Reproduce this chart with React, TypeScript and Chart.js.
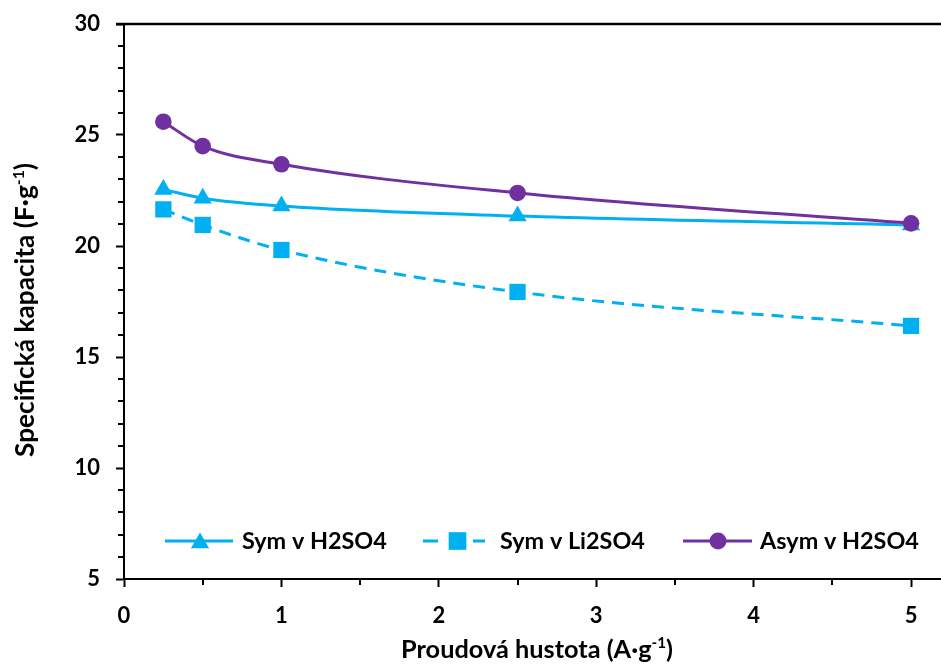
import React, { useEffect, useRef } from 'react';
import { Chart, registerables } from 'chart.js';

Chart.register(...registerables);

// ---- data ----
const currentDensity = [0.25, 0.5, 1, 2.5, 5];
const symH2SO4 = [22.55, 22.15, 21.8, 21.35, 20.95];
const symLi2SO4 = [21.65, 20.95, 19.82, 17.93, 16.4];
const asymH2SO4 = [25.6, 24.5, 23.68, 22.39, 21.02];
const seriesNames = ['Sym v H2SO4', 'Sym v Li2SO4', 'Asym v H2SO4'];
const yTickValues = [5, 10, 15, 20, 25, 30];
const xTickValues = [0, 1, 2, 3, 4, 5];
const xTitleParts = ['Proudová hustota (A·g', '-1', ')'];
const yTitleParts = ['Specifická kapacita (F·g', '-1', ')'];

const BLUE = '#00B0F0';
const PURPLE = '#7030A0';
const FONT = 'Lato, "Open Sans", sans-serif';

function supWidth(ctx: CanvasRenderingContext2D, parts: string[], s: number) {
  ctx.font = `bold ${s}px ${FONT}`;
  const a = ctx.measureText(parts[0]).width;
  const c = ctx.measureText(parts[2]).width;
  ctx.font = `bold ${s * 0.6}px ${FONT}`;
  const b = ctx.measureText(parts[1]).width;
  return a + b + c;
}

function drawSup(ctx: CanvasRenderingContext2D, parts: string[], target: number) {
  const s = (20 * target) / supWidth(ctx, parts, 20);
  const w = supWidth(ctx, parts, s);
  let x = -w / 2;
  ctx.textAlign = 'left';
  ctx.textBaseline = 'alphabetic';
  ctx.fillStyle = '#000';
  ctx.font = `bold ${s}px ${FONT}`;
  ctx.fillText(parts[0], x, 0);
  x += ctx.measureText(parts[0]).width;
  ctx.font = `bold ${s * 0.6}px ${FONT}`;
  ctx.fillText(parts[1], x, -s * 0.38);
  x += ctx.measureText(parts[1]).width;
  ctx.font = `bold ${s}px ${FONT}`;
  ctx.fillText(parts[2], x, 0);
}

function marker(ctx: CanvasRenderingContext2D, style: string, x: number, y: number, r: number, color: string) {
  ctx.fillStyle = color;
  ctx.beginPath();
  if (style === 'triangle') {
    ctx.moveTo(x, y - r);
    ctx.lineTo(x + r * 0.866, y + r * 0.5);
    ctx.lineTo(x - r * 0.866, y + r * 0.5);
    ctx.closePath();
  } else if (style === 'rect') {
    const h = r * Math.SQRT1_2;
    ctx.rect(x - h, y - h, 2 * h, 2 * h);
  } else {
    ctx.arc(x, y, r, 0, Math.PI * 2);
  }
  ctx.fill();
}

const decorPlugin = {
  id: 'decor',
  afterDraw(chart: any) {
    const ctx: CanvasRenderingContext2D = chart.ctx;
    const { left, top, bottom } = chart.chartArea;
    const xs = chart.scales.x;
    const ys = chart.scales.y;
    ctx.save();
    // top border
    ctx.strokeStyle = '#000';
    ctx.lineWidth = 2.5;
    ctx.beginPath();
    ctx.moveTo(left - 8, top);
    ctx.lineTo(941, top);
    ctx.stroke();
    // minor ticks
    ctx.lineWidth = 2;
    ctx.beginPath();
    for (let v = 5; v <= 30; v += 1) {
      if (v % 5 === 0) continue;
      const py = Math.round(ys.getPixelForValue(v));
      ctx.moveTo(left - 6, py);
      ctx.lineTo(left, py);
    }
    for (let v = 0.5; v <= 5.1; v += 1) {
      const px = Math.round(xs.getPixelForValue(v));
      ctx.moveTo(px, bottom);
      ctx.lineTo(px, bottom + 6);
    }
    ctx.stroke();

    // axis titles
    ctx.save();
    ctx.translate(537, 658);
    drawSup(ctx, xTitleParts, 272);
    ctx.restore();
    ctx.save();
    ctx.translate(34, 310);
    ctx.rotate(-Math.PI / 2);
    drawSup(ctx, yTitleParts, 294);
    ctx.restore();

    // legend
    const ly = 541;
    const ds = chart.data.datasets;
    ctx.font = `bold 20px ${FONT}`;
    const ls = (20 * 145) / ctx.measureText(seriesNames[0]).width;
    ctx.lineWidth = 3;
    ctx.setLineDash([]);
    ctx.strokeStyle = ds[0].borderColor;
    ctx.beginPath();
    ctx.moveTo(165, ly);
    ctx.lineTo(233, ly);
    ctx.stroke();
    marker(ctx, 'triangle', 200, ly + 2, 10.5, ds[0].borderColor);
    ctx.strokeStyle = ds[1].borderColor;
    ctx.beginPath();
    ctx.moveTo(423, ly);
    ctx.lineTo(438, ly);
    ctx.moveTo(473, ly);
    ctx.lineTo(485, ly);
    ctx.stroke();
    marker(ctx, 'rect', 457.5, ly, 12.5, ds[1].borderColor);
    ctx.strokeStyle = ds[2].borderColor;
    ctx.beginPath();
    ctx.moveTo(683, ly);
    ctx.lineTo(752, ly);
    ctx.stroke();
    marker(ctx, 'circle', 718, ly, 8.5, ds[2].borderColor);

    ctx.fillStyle = '#000';
    ctx.font = `bold ${ls}px ${FONT}`;
    ctx.textAlign = 'left';
    ctx.textBaseline = 'middle';
    ctx.fillText(seriesNames[0], 242, ly);
    ctx.fillText(seriesNames[1], 500, ly);
    ctx.fillText(seriesNames[2], 760, ly);
    ctx.restore();
  },
};

export default function App() {
  const ref = useRef<HTMLCanvasElement>(null);
  useEffect(() => {
    const canvas = ref.current;
    if (!canvas) return;
    const mk = (ys: number[]) => currentDensity.map((x, i) => ({ x, y: ys[i] }));
    const chart = new Chart(canvas, {
      type: 'line',
      data: {
        datasets: [
          {
            label: seriesNames[0],
            data: mk(symH2SO4),
            borderColor: BLUE,
            backgroundColor: BLUE,
            borderWidth: 3,
            pointStyle: 'triangle',
            pointRadius: 10.5,
            pointBorderWidth: 0,
            cubicInterpolationMode: 'monotone',
            order: 1,
          },
          {
            label: seriesNames[1],
            data: mk(symLi2SO4),
            borderColor: BLUE,
            backgroundColor: BLUE,
            borderWidth: 3,
            borderDash: [12, 8],
            pointStyle: 'rect',
            pointRadius: 11.5,
            pointBorderWidth: 0,
            cubicInterpolationMode: 'monotone',
            order: 2,
          },
          {
            label: seriesNames[2],
            data: mk(asymH2SO4),
            borderColor: PURPLE,
            backgroundColor: PURPLE,
            borderWidth: 3,
            pointStyle: 'circle',
            pointRadius: 8.3,
            pointBorderWidth: 0,
            cubicInterpolationMode: 'monotone',
            order: 0,
          },
        ],
      },
      options: {
        responsive: false,
        animation: false,
        clip: false as any,
        layout: { autoPadding: false, padding: { top: 24, right: 0, left: 0, bottom: 0 } },
        plugins: { legend: { display: false }, tooltip: { enabled: false } },
        scales: {
          x: {
            type: 'linear',
            min: 0,
            max: 5.19,
            afterFit: (s: any) => {
              s.height = 87;
              s.paddingLeft = 0;
              s.paddingRight = 0;
            },
            afterBuildTicks: (s: any) => {
              s.ticks = xTickValues.map((v) => ({ value: v }));
            },
            ticks: {
              color: '#000',
              font: { family: FONT, size: 22, weight: 'bold' },
              padding: 16,
              maxRotation: 0,
            },
            grid: {
              display: true,
              drawOnChartArea: false,
              drawTicks: true,
              tickLength: 8,
              tickWidth: 2,
              tickColor: '#000',
            },
            border: { display: true, color: '#000', width: 2 },
          },
          y: {
            type: 'linear',
            min: 5,
            max: 30,
            afterFit: (s: any) => {
              s.width = 124;
              s.paddingTop = 0;
              s.paddingBottom = 0;
            },
            afterBuildTicks: (s: any) => {
              s.ticks = yTickValues.map((v) => ({ value: v }));
            },
            ticks: {
              color: '#000',
              font: { family: FONT, size: 22, weight: 'bold' },
              padding: 16,
            },
            grid: {
              display: true,
              drawOnChartArea: false,
              drawTicks: true,
              tickLength: 8,
              tickWidth: 2,
              tickColor: '#000',
            },
            border: { display: true, color: '#000', width: 2 },
          },
        },
      },
      plugins: [decorPlugin],
    });
    return () => chart.destroy();
  }, []);
  return (
    <div style={{ position: 'absolute', left: 0, top: 0, width: 941, height: 666, background: '#fff' }}>
      <canvas ref={ref} width={941} height={666} style={{ display: 'block' }} />
    </div>
  );
}
